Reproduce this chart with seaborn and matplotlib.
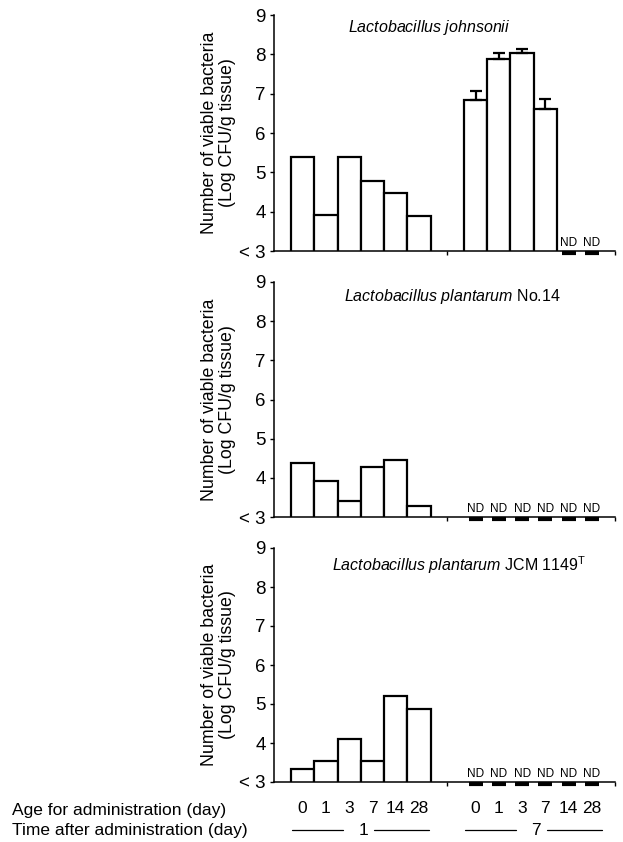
import numpy as np
import pandas as pd
import matplotlib
matplotlib.use("Agg")
import matplotlib.pyplot as plt
import matplotlib.transforms as mtransforms
import seaborn as sns

# --------------------------
# Data (log CFU/g tissue, None = not detected)
# --------------------------
ages = ["0", "1", "3", "7", "14", "28"]
times = ["1", "7"]

lj_day1 = [5.40, 3.92, 5.40, 4.77, 4.48, 3.88]
lj_day7 = [6.83, 7.87, 8.04, 6.60, None, None]
lj_day7_err = [0.25, 0.17, 0.09, 0.27, None, None]

lp14_day1 = [4.37, 3.91, 3.42, 4.27, 4.46, 3.27]
lp14_day7 = [None, None, None, None, None, None]

jcm_day1 = [3.34, 3.55, 4.10, 3.55, 5.21, 4.88]
jcm_day7 = [None, None, None, None, None, None]

titles = [
    r"$\mathit{Lactobacillus\ johnsonii}$",
    r"$\mathit{Lactobacillus\ plantarum}$ No.14",
    r"$\mathit{Lactobacillus\ plantarum}$ JCM 1149$^{\mathrm{T}}$",
]

# --------------------------
# Style
# --------------------------
sns.set_theme(style="ticks")
plt.rcParams["font.family"] = ["Liberation Sans", "DejaVu Sans"]
plt.rcParams["mathtext.fontset"] = "custom"
plt.rcParams["mathtext.rm"] = "Liberation Sans"
plt.rcParams["mathtext.it"] = "Liberation Sans:italic"
for key in ["text.color", "axes.labelcolor", "xtick.color", "ytick.color",
            "axes.edgecolor"]:
    plt.rcParams[key] = "black"

GROUP_OFFSET = 7.43  # second group starts after a gap
XLIM = (-1.23, 13.42)

panels = [
    (lj_day1, lj_day7, lj_day7_err),
    (lp14_day1, lp14_day7, None),
    (jcm_day1, jcm_day7, None),
]
title_x = [5.46, 6.44, 6.74]
title_y = [8.67, 8.62, 8.57]

fig = plt.figure(figsize=(6.23, 8.42), dpi=100)
left, width = 274 / 623, (615 - 274) / 623
tops = [15, 282, 548]
bottoms = [251, 517, 782]
axes = [fig.add_axes([left, 1 - b / 842, width, (b - t) / 842])
        for t, b in zip(tops, bottoms)]

for i, (ax, (d1, d7, err7)) in enumerate(zip(axes, panels)):
    rows = []
    for g, vals in enumerate([d1, d7]):
        for j, v in enumerate(vals):
            rows.append({"time": times[g], "age": ages[j],
                         "pos": j + g * GROUP_OFFSET,
                         "value": np.nan if v is None else v})
    df = pd.DataFrame(rows)

    sns.barplot(data=df.dropna(), x="pos", y="value", native_scale=True,
                width=1.0, color="white", edgecolor="black", linewidth=1.6,
                errorbar=None, ax=ax)

    if err7 is not None:
        sub = df[df["time"] == "7"].copy()
        sub["err"] = [np.nan if e is None else e for e in err7]
        sub = sub.dropna()
        ax.errorbar(sub["pos"], sub["value"],
                    yerr=[np.zeros(len(sub)), sub["err"]],
                    fmt="none", ecolor="black", elinewidth=1.6,
                    capsize=4, capthick=1.6)

    # not detected markers
    nd = df[df["value"].isna()]
    ax.hlines([2.96] * len(nd), nd["pos"] - 0.3, nd["pos"] + 0.3,
              colors="black", linewidth=3, clip_on=False, zorder=5)
    for p in nd["pos"]:
        ax.text(p, 3.06, "ND", ha="center", va="bottom", fontsize=8.5)

    ax.set_ylim(3, 9)
    ax.set_xlim(*XLIM)
    ax.set_yticks([3, 4, 5, 6, 7, 8, 9])
    ax.set_yticklabels(["< 3", "4", "5", "6", "7", "8", "9"], fontsize=13.5)
    ax.tick_params(axis="y", length=3, width=1, pad=3)
    ax.set_ylabel("Number of viable bacteria\n(Log CFU/g tissue)",
                  fontsize=12.8, labelpad=2, linespacing=1.1)
    ax.set_xlabel("")

    centers = df["pos"].tolist()
    ax.set_xticks(centers)
    if i == 2:
        ax.set_xticklabels(ages + ages, fontsize=12.5)
    else:
        ax.set_xticklabels([])
    ax.tick_params(axis="x", which="major", length=0, pad=14)
    ax.set_xticks([6.2, XLIM[1]], minor=True)
    ax.tick_params(axis="x", which="minor", length=3, width=1)

    for s in ["top", "right"]:
        ax.spines[s].set_visible(False)
    for s in ["left", "bottom"]:
        ax.spines[s].set_linewidth(1.1)

    ax.text(title_x[i], title_y[i], titles[i], ha="center", va="center",
            fontsize=11.5)

# --------------------------
# Bottom annotations
# --------------------------
fig.text(12 / 623, 1 - 815 / 842, "Age for administration (day)",
         fontsize=12.5, va="baseline")
fig.text(12 / 623, 1 - 835 / 842, "Time after administration (day)",
         fontsize=12.5, va="baseline")

ax = axes[-1]
trans = mtransforms.blended_transform_factory(ax.transData, fig.transFigure)
line_y = 1 - 830 / 842
for g, t in enumerate(times):
    start = g * GROUP_OFFSET
    ax.plot([start - 0.45, start + 1.75], [line_y, line_y], color="black",
            linewidth=0.9, transform=trans, clip_on=False)
    ax.plot([start + 3.05, start + 5.45], [line_y, line_y], color="black",
            linewidth=0.9, transform=trans, clip_on=False)
    ax.text(start + 2.6, 1 - 835 / 842, t, transform=trans, ha="center",
            va="baseline", fontsize=12.5)

fig.savefig("out.png", dpi=100)
